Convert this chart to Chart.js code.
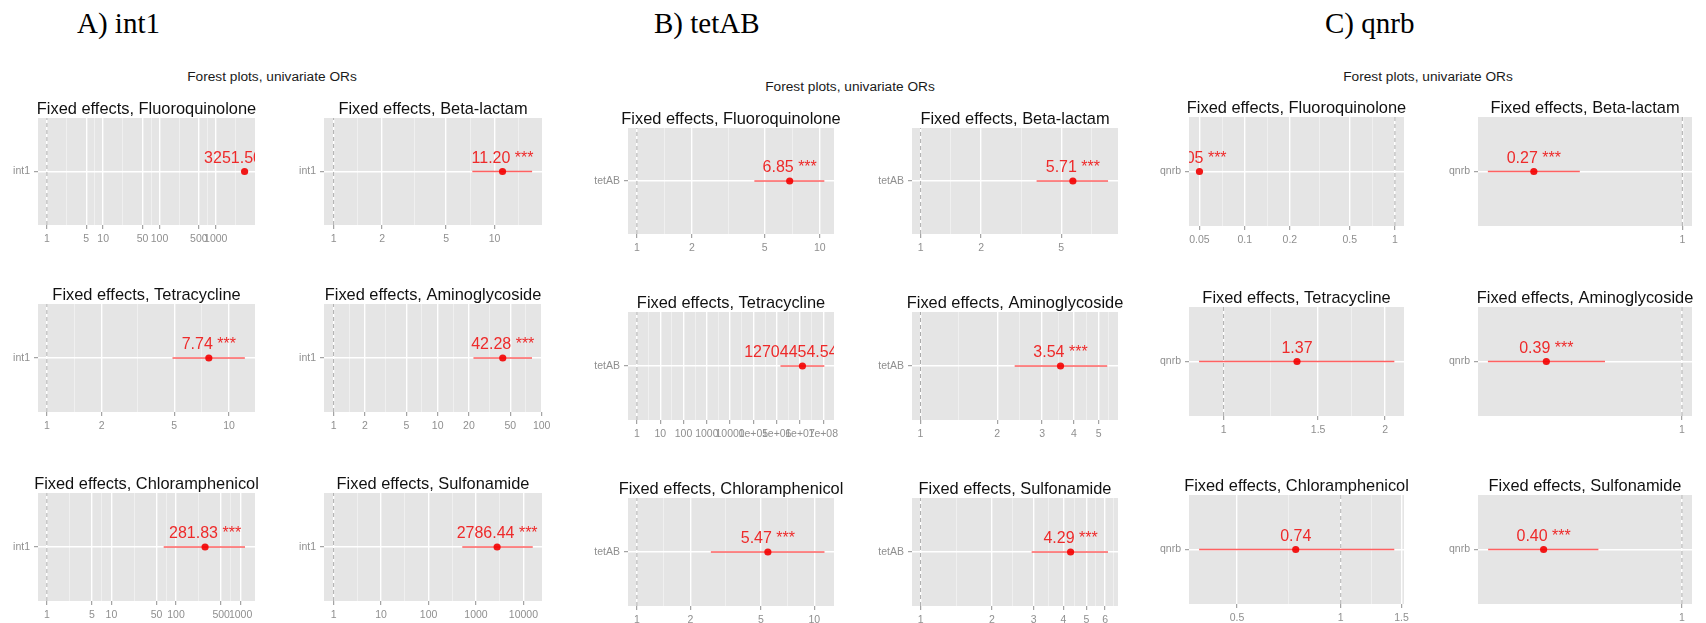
<!DOCTYPE html>
<html>
<head>
<meta charset="utf-8">
<script src="https://cdn.jsdelivr.net/npm/chart.js@4.4.1/dist/chart.umd.min.js"></script>
<style>
  body { margin: 0; width: 1706px; height: 623px; overflow: hidden; background: #fff; position: relative; }
  .head { position: absolute; font-family: "Liberation Serif", serif; font-size: 29px; line-height: 29px; color: #000; white-space: nowrap; }
  .sup { position: absolute; width: 300px; text-align: center; font-family: "Liberation Sans", Arial, sans-serif; font-size: 13.7px; line-height: 16px; color: #1a1a1a; white-space: nowrap; }
  canvas { position: absolute; }
</style>
</head>
<body>
<script>
// ---- data ----
var genes = ['int1', 'tetAB', 'qnrb'];
var headings = ['A) int1', 'B) tetAB', 'C) qnrb'];
var drugs = ['Fluoroquinolone', 'Beta-lactam', 'Tetracycline', 'Aminoglycoside', 'Chloramphenicol', 'Sulfonamide'];

// odds ratios and confidence limits, in drug order
var orInt1 = [3251.50, 11.20, 7.74, 42.28, 281.83, 2786.44];
var loInt1 = [null, 7.27, 4.89, 22.1, 64.4, 514];
var hiInt1 = [null, 17.1, 12.2, 80.8, 1170, 15700];
var sigInt1 = ['***', '***', '***', '***', '***', '***'];

var orTetAB = [6.85, 5.71, 12704454.54, 3.54, 5.47, 4.29];
var loTetAB = [4.39, 3.77, 1.45e6, 2.34, 2.61, 2.94];
var hiTetAB = [10.6, 8.54, 1.11e8, 5.40, 11.4, 6.17];
var sigTetAB = ['***', '***', '***', '***', '***', '***'];

var orQnrb = [0.05, 0.27, 1.37, 0.39, 0.74, 0.40];
var loQnrb = [null, 0.18, 0.90, 0.26, 0.388, 0.277];
var hiQnrb = [null, 0.405, 2.08, 0.586, 1.43, 0.575];
var sigQnrb = ['***', '***', '', '***', '', '***'];

// x axis ranges and breaks per panel
var rangeInt1 = [[0.695, 4977], [0.871, 19.7], [0.894, 13.87], [0.808, 100.8], [0.729, 1671], [0.626, 24600]];
var ticksInt1 = [[1, 5, 10, 50, 100, 500, 1000], [1, 2, 5, 10], [1, 2, 5, 10], [1, 2, 5, 10, 20, 50, 100], [1, 5, 10, 50, 100, 500, 1000], [1, 10, 100, 1000, 10000]];
var minorInt1 = [[2.236, 7.071, 22.36, 70.71, 223.6, 707.1, 2236], [1.414, 3.162, 7.071, 14.14], [1.414, 3.162, 7.071], [1.414, 3.162, 7.071, 14.14, 31.62, 70.71], [2.236, 7.071, 22.36, 70.71, 223.6, 707.1], [3.162, 31.62, 316.2, 3162]];

var rangeTetAB = [[0.894, 11.97], [0.906, 9.57], [0.414, 2.88e8], [0.926, 5.95], [0.891, 12.9], [0.92, 6.8]];
var ticksTetAB = [[1, 2, 5, 10], [1, 2, 5], [1, 10, 100, 1000, 10000, 1e5, 1e6, 1e7, 1e8], [1, 2, 3, 4, 5], [1, 2, 5, 10], [1, 2, 3, 4, 5, 6]];
var minorTetAB = [[1.414, 3.162, 7.071], [1.414, 3.162, 7.071], [3.162, 31.62, 316.2, 3162, 31623, 316228, 3162278, 31622777], [1.414, 2.449, 3.464, 4.472, 5.477], [1.414, 3.162, 7.071], [1.414, 2.449, 3.464, 4.472, 5.477, 6.481]];

var rangeQnrb = [[0.0426, 1.149], [0.165, 1.089], [0.862, 2.168], [0.2427, 1.072], [0.3626, 1.526], [0.259, 1.069]];
var ticksQnrb = [[0.05, 0.1, 0.2, 0.5, 1], [1], [1, 1.5, 2], [1], [0.5, 1, 1.5], [1]];
var minorQnrb = [[0.0707, 0.1414, 0.3162, 0.7071], [], [1.2247, 1.7321], [], [0.7071, 1.2247], []];

var ors = [orInt1, orTetAB, orQnrb];
var los = [loInt1, loTetAB, loQnrb];
var his = [hiInt1, hiTetAB, hiQnrb];
var sigs = [sigInt1, sigTetAB, sigQnrb];
var ranges = [rangeInt1, rangeTetAB, rangeQnrb];
var majors = [ticksInt1, ticksTetAB, ticksQnrb];
var minors = [minorInt1, minorTetAB, minorQnrb];

// ---- layout (page pixels) ----
var colSpans = [[[38, 255], [324, 542]], [[628, 834], [912, 1118]], [[1189, 1404], [1478, 1692]]];
var rowSpans = [[[118, 225], [304, 412], [493, 601]], [[128, 234], [312, 420], [498, 606]], [[117, 226], [307, 416], [495, 604]]];
var headX = [77, 654, 1325];
var supX = [272, 850, 1428];
var supY = [77, 87, 77];

Chart.defaults.font.family = '"Liberation Sans", Arial, sans-serif';

var grey = '#8f8f8f';

function fmt(v) {
  if (v >= 1e5) {
    var e = Math.round(Math.log10(v));
    return (v / Math.pow(10, e)) + 'e+' + (e < 10 ? '0' + e : e);
  }
  return String(v);
}

var panelPlugin = {
  id: 'panel',
  beforeDraw: function(chart) {
    var a = chart.chartArea, c = chart.ctx;
    c.save();
    c.fillStyle = '#e5e5e5';
    c.fillRect(a.left, a.top, a.right - a.left, a.bottom - a.top);
    c.restore();
  },
  afterDatasetsDraw: function(chart, args, opts) {
    var a = chart.chartArea, c = chart.ctx;
    var pt = chart.getDatasetMeta(2).data[0];
    if (!pt) return;
    c.save();
    c.beginPath();
    c.rect(a.left, a.top, a.right - a.left, a.bottom - a.top);
    c.clip();
    c.fillStyle = '#ee2a2a';
    c.font = '16px "Liberation Sans", Arial, sans-serif';
    c.textAlign = 'center';
    c.textBaseline = 'alphabetic';
    c.fillText(opts.label, pt.x, pt.y - 9);
    c.restore();
  },
  afterDraw: function(chart, args, opts) {
    var a = chart.chartArea, c = chart.ctx;
    c.save();
    c.fillStyle = '#111';
    c.font = '16.4px "Liberation Sans", Arial, sans-serif';
    c.textAlign = 'center';
    c.textBaseline = 'alphabetic';
    c.fillText(opts.title, (a.left + a.right) / 2, a.top - 4);
    c.restore();
  }
};

function makePanel(g, i) {
  var col = i % 2, row = Math.floor(i / 2);
  var L = colSpans[g][col][0], R = colSpans[g][col][1];
  var T = rowSpans[g][row][0], B = rowSpans[g][row][1];
  var padL = 62, padT = 30, padR = 30, axisH = 22;

  var cv = document.createElement('canvas');
  cv.width = R - L + padL + padR;
  cv.height = B - T + padT + axisH;
  cv.style.left = (L - padL) + 'px';
  cv.style.top = (T - padT) + 'px';
  document.body.appendChild(cv);

  var maj = majors[g][i], mnr = minors[g][i];
  var allTicks = maj.concat(mnr).sort(function(a, b) { return a - b; });
  var isMajor = function(ctx) { return ctx.tick && maj.indexOf(ctx.tick.value) >= 0; };
  var lo = los[g][i], hi = his[g][i], or = ors[g][i];
  var label = or.toFixed(2) + (sigs[g][i] ? ' ' + sigs[g][i] : '');

  new Chart(cv, {
    type: 'scatter',
    data: {
      datasets: [
        { data: [{ x: 1, y: -0.6 }, { x: 1, y: 0.6 }], showLine: true, borderColor: '#ababab', borderWidth: 1, borderDash: [4, 3], pointRadius: 0 },
        { data: lo != null ? [{ x: lo, y: 0 }, { x: hi, y: 0 }] : [], showLine: true, borderColor: 'rgba(255,0,0,0.62)', borderWidth: 1.6, pointRadius: 0 },
        { data: [{ x: or, y: 0 }], pointRadius: 3.6, backgroundColor: '#f01818', borderWidth: 0 }
      ]
    },
    options: {
      responsive: false,
      animation: false,
      events: [],
      layout: { padding: { left: 0, top: padT, right: padR, bottom: 0 } },
      plugins: {
        legend: { display: false },
        tooltip: { enabled: false },
        panel: { title: 'Fixed effects, ' + drugs[i], label: label }
      },
      scales: {
        x: {
          type: 'logarithmic',
          min: ranges[g][i][0],
          max: ranges[g][i][1],
          bounds: 'data',
          border: { display: false },
          afterBuildTicks: function(s) { s.ticks = allTicks.map(function(v) { return { value: v }; }); },
          afterFit: function(s) { s.height = axisH; },
          ticks: {
            autoSkip: false, maxRotation: 0, minRotation: 0, padding: 4,
            color: grey, font: { size: 10.5 },
            callback: function(v) { return maj.indexOf(v) >= 0 ? fmt(v) : ''; }
          },
          grid: {
            color: function(ctx) { return isMajor(ctx) ? '#ffffff' : '#f2f2f2'; },
            lineWidth: function(ctx) { return isMajor(ctx) ? 1.4 : 0.8; },
            tickColor: function(ctx) { return isMajor(ctx) ? grey : 'rgba(0,0,0,0)'; },
            tickLength: 4,
            tickWidth: 1
          }
        },
        y: {
          type: 'linear',
          min: -0.6,
          max: 0.6,
          border: { display: false },
          afterBuildTicks: function(s) { s.ticks = [{ value: 0 }]; },
          afterFit: function(s) { s.width = padL; },
          ticks: { padding: 4, color: grey, font: { size: 10.5 }, callback: function() { return genes[g]; } },
          grid: { color: '#ffffff', lineWidth: 1.4, tickColor: grey, tickLength: 4, tickWidth: 1 }
        }
      }
    },
    plugins: [panelPlugin]
  });
}

for (var g = 0; g < genes.length; g++) {
  var h = document.createElement('div');
  h.className = 'head';
  h.textContent = headings[g];
  h.style.left = headX[g] + 'px';
  h.style.top = '9px';
  document.body.appendChild(h);

  var s = document.createElement('div');
  s.className = 'sup';
  s.textContent = 'Forest plots, univariate ORs';
  s.style.left = (supX[g] - 150) + 'px';
  s.style.top = (supY[g] - 8) + 'px';
  document.body.appendChild(s);

  for (var i = 0; i < drugs.length; i++) makePanel(g, i);
}
</script>
</body>
</html>
